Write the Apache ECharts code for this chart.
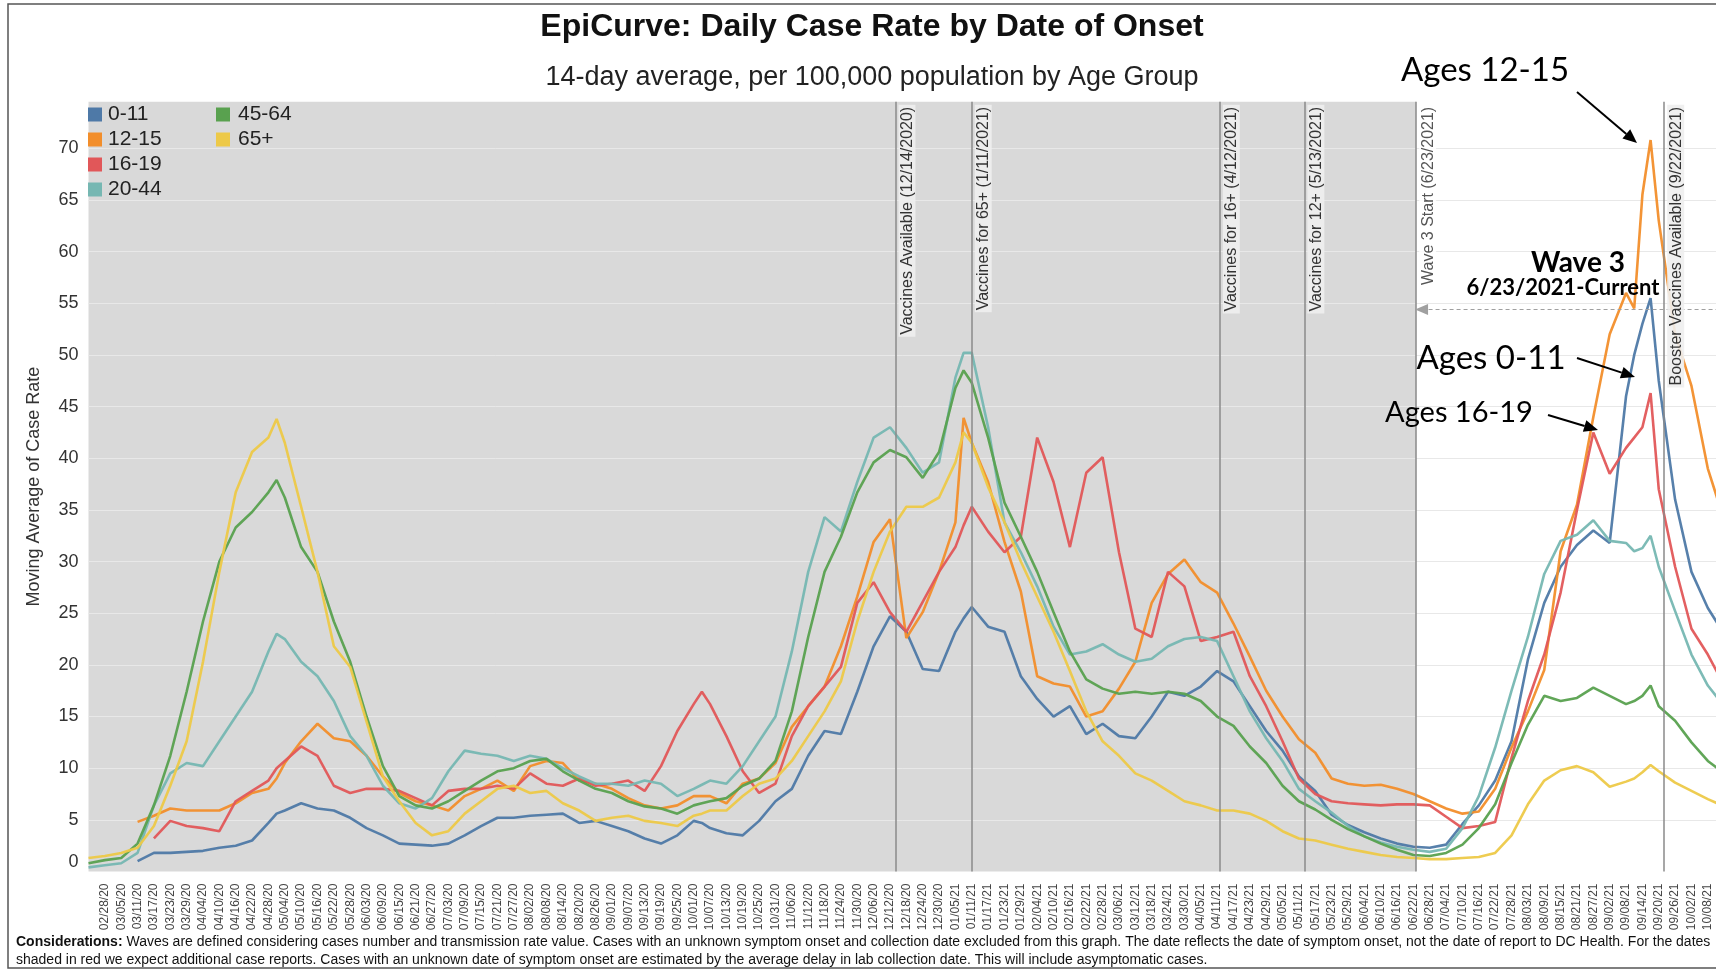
<!DOCTYPE html>
<html>
<head>
<meta charset="utf-8">
<title>EpiCurve: Daily Case Rate by Date of Onset</title>
<script src="https://cdn.jsdelivr.net/npm/echarts@6/dist/echarts.min.js"></script>
<style>
  html, body { margin: 0; padding: 0; background: #fff; overflow: hidden; }
  #main { width: 1716px; height: 971px; }
</style>
</head>
<body>
<div id="main"></div>
<script>
// days counted from 02/28/2020 (first tick label)
var days = [-6, 0, 6, 12, 18, 24, 30, 36, 42, 48, 54, 60, 63, 66, 72, 78, 84, 90, 96, 102,
  108, 114, 120, 126, 132, 138, 144, 150, 156, 162, 168, 174, 180, 186, 192, 198, 204, 210, 216, 219,
  222, 228, 234, 240, 246, 252, 258, 264, 270, 276, 282, 288, 294, 300, 306, 312, 315, 318, 324, 330,
  336, 342, 348, 354, 360, 366, 372, 378, 384, 390, 396, 402, 408, 414, 420, 426, 432, 438, 444, 450,
  456, 462, 468, 474, 480, 486, 492, 498, 504, 510, 516, 522, 528, 534, 540, 546, 552, 558, 561, 564,
  567, 570, 576, 582, 588, 594];

var ages0_11 = [null, null, null, 1.0, 1.8, 1.8, 1.9, 2.0, 2.3, 2.5, 3.0, 4.7, 5.6, 5.9, 6.6, 6.1, 5.9, 5.2, 4.2, 3.5,
  2.7, 2.6, 2.5, 2.7, 3.5, 4.4, 5.2, 5.2, 5.4, 5.5, 5.6, 4.7, 4.9, 4.4, 3.9, 3.2, 2.7, 3.5, 4.9, 4.7,
  4.2, 3.7, 3.5, 4.9, 6.8, 8.0, 11.2, 13.6, 13.3, 17.4, 21.8, 24.7, 23.2, 19.6, 19.4, 23.2, 24.5, 25.6, 23.7, 23.2,
  18.9, 16.7, 15.0, 16.0, 13.3, 14.3, 13.1, 12.9, 15.0, 17.4, 17.0, 17.9, 19.4, 18.4, 16.0, 13.6, 11.7, 9.2, 7.8, 5.5,
  4.5, 3.8, 3.2, 2.7, 2.4, 2.3, 2.6, 4.6, 6.4, 8.8, 12.6, 20.5, 26.0, 29.5, 31.6, 33.0, 31.8, 46.0, 50.0, 53.0,
  55.5, 47.5, 36.0, 29.0, 25.5, 23.0];

var ages12_15 = [null, null, null, 4.8, 5.4, 6.1, 5.9, 5.9, 5.9, 6.6, 7.6, 8.0, 9.0, 10.5, 12.6, 14.3, 12.9, 12.6, 11.2, 9.2,
  7.6, 6.8, 6.4, 5.9, 7.3, 8.0, 8.8, 7.8, 10.2, 10.7, 10.5, 8.8, 8.5, 8.0, 7.1, 6.4, 6.1, 6.4, 7.3, 7.3,
  7.3, 6.6, 8.5, 9.0, 10.5, 14.0, 16.0, 17.9, 21.8, 26.6, 31.9, 34.1, 22.6, 25.1, 29.0, 33.8, 43.9, 41.5, 37.7, 31.9,
  27.1, 18.9, 18.2, 17.9, 15.0, 15.5, 17.7, 20.3, 26.0, 28.8, 30.2, 28.0, 27.0, 24.0, 20.8, 17.5, 15.0, 12.8, 11.5, 9.0,
  8.5, 8.3, 8.4, 8.0, 7.5, 6.8, 6.1, 5.6, 5.8, 8.0, 12.0, 15.5, 19.5, 31.0, 35.5, 44.0, 52.0, 56.0, 54.5, 65.5,
  70.8, 63.0, 52.0, 47.0, 39.0, 34.0];

var ages16_19 = [null, null, null, null, 3.2, 4.9, 4.4, 4.2, 3.9, 6.8, 7.8, 8.8, 10.0, 10.7, 12.1, 11.2, 8.3, 7.6, 8.0, 8.0,
  7.8, 7.1, 6.4, 7.8, 8.0, 8.0, 8.3, 8.0, 9.5, 8.5, 8.3, 9.0, 8.3, 8.5, 8.8, 7.8, 10.2, 13.6, 16.2, 17.4,
  16.2, 13.1, 9.7, 7.6, 8.5, 13.1, 16.0, 17.9, 19.8, 26.0, 28.0, 25.1, 23.2, 26.1, 29.0, 31.4, 33.5, 35.3, 32.9, 30.9,
  32.4, 42.0, 37.7, 31.4, 38.6, 40.1, 30.9, 23.5, 22.7, 29.0, 27.6, 22.3, 22.7, 23.2, 18.9, 16.0, 12.6, 9.0, 7.5, 6.8,
  6.6, 6.5, 6.4, 6.5, 6.5, 6.4, 5.3, 4.2, 4.4, 4.8, 11.0, 16.5, 21.0, 27.0, 35.0, 42.5, 38.5, 41.0, 42.0, 43.0,
  46.3, 37.0, 29.5, 23.5, 21.0, 18.0];

var ages20_44 = [0.4, 0.6, 0.8, 1.8, 6.4, 9.5, 10.5, 10.2, 12.6, 15.0, 17.4, 21.3, 23.0, 22.5, 20.3, 18.9, 16.5, 13.1, 11.2, 8.3,
  6.6, 6.1, 7.1, 9.7, 11.7, 11.4, 11.2, 10.7, 11.2, 10.9, 10.0, 9.2, 8.5, 8.5, 8.3, 8.8, 8.5, 7.3, 8.0, 8.4,
  8.8, 8.5, 10.2, 12.6, 15.0, 21.3, 29.0, 34.3, 32.9, 37.7, 42.0, 43.0, 41.0, 38.6, 39.6, 47.8, 50.2, 50.2, 43.0, 33.8,
  30.9, 27.6, 23.7, 21.0, 21.3, 22.0, 21.0, 20.3, 20.6, 21.8, 22.5, 22.7, 22.3, 18.9, 15.5, 12.9, 10.7, 8.0, 6.8, 5.7,
  4.4, 3.4, 2.8, 2.4, 2.1, 1.9, 2.2, 4.2, 7.3, 12.0, 17.5, 22.7, 28.8, 32.0, 32.6, 34.0, 32.0, 31.8, 31.0, 31.3,
  32.5, 29.5, 25.2, 21.0, 18.0, 16.0];

var ages45_64 = [0.8, 1.1, 1.3, 2.7, 6.4, 11.2, 17.4, 24.2, 30.0, 33.3, 34.8, 36.7, 37.9, 36.2, 31.4, 29.0, 24.2, 20.3, 15.0, 10.2,
  7.3, 6.4, 6.1, 6.8, 7.8, 8.8, 9.7, 10.0, 10.7, 10.9, 9.7, 8.8, 8.0, 7.6, 6.8, 6.3, 6.1, 5.6, 6.4, 6.6,
  6.8, 7.1, 8.3, 9.0, 10.7, 15.5, 22.7, 29.0, 32.4, 36.7, 39.6, 40.8, 40.1, 38.1, 40.6, 46.8, 48.5, 47.3, 42.0, 35.7,
  32.4, 29.0, 25.1, 21.3, 18.6, 17.7, 17.2, 17.4, 17.2, 17.4, 17.2, 16.5, 15.0, 14.1, 12.1, 10.5, 8.3, 6.8, 6.0, 5.0,
  4.1, 3.4, 2.7, 2.1, 1.6, 1.5, 1.8, 2.6, 4.2, 6.5, 10.5, 14.2, 17.0, 16.5, 16.8, 17.8, 17.0, 16.2, 16.5, 17.0,
  18.0, 16.0, 14.6, 12.5, 10.7, 9.5];

var ages65plus = [1.3, 1.5, 1.8, 2.3, 4.4, 8.3, 12.6, 20.3, 29.0, 36.7, 40.6, 42.0, 43.8, 41.5, 35.3, 29.0, 21.8, 19.8, 14.5, 9.2,
  6.8, 4.7, 3.5, 3.9, 5.6, 6.8, 8.0, 8.3, 7.6, 7.8, 6.6, 5.9, 4.9, 5.2, 5.4, 4.9, 4.7, 4.4, 5.4, 5.6,
  5.9, 5.9, 7.3, 8.5, 9.0, 10.7, 13.1, 15.5, 18.4, 24.2, 29.0, 32.9, 35.3, 35.3, 36.2, 39.6, 42.5, 41.5, 37.2, 33.8,
  30.0, 26.6, 23.2, 19.4, 15.5, 12.6, 11.2, 9.5, 8.8, 7.8, 6.8, 6.4, 5.9, 5.9, 5.6, 4.9, 3.9, 3.2, 3.0, 2.6,
  2.2, 1.9, 1.6, 1.4, 1.3, 1.2, 1.2, 1.3, 1.4, 1.8, 3.5, 6.5, 8.8, 9.8, 10.2, 9.6, 8.2, 8.7, 9.0, 9.6,
  10.3, 9.7, 8.6, 7.8, 7.0, 6.3];

var groupNames = ['0-11', '12-15', '16-19', '20-44', '45-64', '65+'];
var groupColors = ['#4E79A7', '#F28E2B', '#E15759', '#76B7B2', '#59A14F', '#EDC948'];

// vertical event lines (days from 02/28/2020)
var eventDays = [290, 318, 409, 440, 481, 572];
var eventLabels = ['Vaccines Available (12/14/2020)', 'Vaccines for 65+ (1/11/2021)',
  'Vaccines for 16+ (4/12/2021)', 'Vaccines for 12+ (5/13/2021)',
  'Wave 3 Start (6/23/2021)', 'Booster Vaccines Available (9/22/2021)'];
var wave3Start = 481;
var wave3Level = 54.4;

var FONT = '"Liberation Sans", Arial, sans-serif';
var ANN = 'Lato, "Open Sans", sans-serif';

function dayLabel(d) {
  var dt = new Date(2020, 1, 28 + d);
  var mm = String(dt.getMonth() + 1).padStart(2, '0');
  var dd = String(dt.getDate()).padStart(2, '0');
  var yy = String(dt.getFullYear()).slice(2);
  return mm + '/' + dd + '/' + yy;
}

function pairs(vals) {
  return days.map(function (d, i) { return [d, vals[i]]; });
}

// arrow = line + filled head, in pixels
function arrow(x1, y1, x2, y2) {
  var a = Math.atan2(y2 - y1, x2 - x1), L = 14, W = 6;
  var bx = x2 - L * Math.cos(a), by = y2 - L * Math.sin(a);
  return [
    { type: 'line', z: 100, shape: { x1: x1, y1: y1, x2: bx, y2: by }, style: { stroke: '#000', lineWidth: 2 } },
    { type: 'polygon', z: 100, shape: { points: [[x2, y2], [bx + W * Math.sin(a), by - W * Math.cos(a)], [bx - W * Math.sin(a), by + W * Math.cos(a)]] }, style: { fill: '#000' } }
  ];
}

var allVals = [ages0_11, ages12_15, ages16_19, ages20_44, ages45_64, ages65plus];

var series = allVals.map(function (vals, i) {
  return {
    name: groupNames[i],
    type: 'line',
    data: pairs(vals),
    showSymbol: false,
    symbol: 'none',
    z: 2,
    lineStyle: { width: 2.6, color: groupColors[i], opacity: 0.95 },
    itemStyle: { color: groupColors[i] }
  };
});

// gray shading before wave 3 + event lines carried by first series
series[0].markArea = {
  silent: true,
  z: 0,
  itemStyle: { color: '#d9d9d9' },
  data: [[{ xAxis: -6 }, { xAxis: wave3Start }]]
};
series[0].markLine = {
  silent: true,
  symbol: ['none', 'none'],
  animation: false,
  data: eventDays.map(function (d, i) {
    return {
      xAxis: d,
      name: eventLabels[i],
      lineStyle: { color: '#8a8a8a', width: 1.5, type: 'solid' },
      label: {
        show: true,
        formatter: '{b}',
        position: 'insideEndBottom',
        distance: 3,
        fontFamily: FONT,
        fontSize: 16,
        color: i === 4 ? '#555' : '#333',
        backgroundColor: i === 4 ? 'rgba(255,255,255,0.85)' : 'rgba(238,238,238,0.9)',
        padding: [1, 2, 0, 2]
      }
    };
  }).concat([[
    { coord: [wave3Start + 2, wave3Level], symbol: 'triangle', symbolSize: [11, 13], symbolRotate: 90 },
    { coord: [591, wave3Level], symbol: 'none' }
  ]].map(function (pair) {
    pair[0].lineStyle = { color: '#a0a0a0', width: 1, type: [4, 3] };
    pair[0].itemStyle = { color: '#999' };
    pair[0].label = { show: false };
    return pair;
  }))
};

var chart = echarts.init(document.getElementById('main'));

var graphics = [
  { type: 'rect', z: 0, shape: { x: 8, y: 4, width: 1800, height: 964 }, style: { fill: null, stroke: '#555', lineWidth: 1.5 } },
  { type: 'text', z: 100, x: 872, y: 27, style: { text: 'EpiCurve: Daily Case Rate by Date of Onset', font: 'bold 32px ' + FONT, fill: '#111', align: 'center', verticalAlign: 'middle' } },
  { type: 'text', z: 100, x: 872, y: 78, style: { text: '14-day average, per 100,000 population by Age Group', font: '27px ' + FONT, fill: '#222', align: 'center', verticalAlign: 'middle' } },
  { type: 'text', z: 100, x: 1485, y: 70, style: { text: 'Ages 12-15', font: '33px ' + ANN, fill: '#000', align: 'center', verticalAlign: 'middle' } },
  { type: 'text', z: 100, x: 1578, y: 263, style: { text: 'Wave 3', font: 'bold 28px ' + ANN, fill: '#000', align: 'center', verticalAlign: 'middle' } },
  { type: 'text', z: 100, x: 1563, y: 288, style: { text: '6/23/2021-Current', font: 'bold 22px ' + ANN, fill: '#000', align: 'center', verticalAlign: 'middle' } },
  { type: 'text', z: 100, x: 1491, y: 358, style: { text: 'Ages 0-11', font: '33px ' + ANN, fill: '#000', align: 'center', verticalAlign: 'middle' } },
  { type: 'text', z: 100, x: 1459, y: 413, style: { text: 'Ages 16-19', font: '29px ' + ANN, fill: '#000', align: 'center', verticalAlign: 'middle' } },
  { type: 'text', z: 100, left: 16, top: 933, style: {
      text: '{b|Considerations:} Waves are defined considering cases number and transmission rate value. Cases with an unknown symptom onset and collection date excluded from this graph. The date reflects the date of symptom onset, not the date of report to DC Health. For the dates\nshaded in red we expect additional case reports. Cases with an unknown date of symptom onset are estimated by the average delay in lab collection date. This will include asymptomatic cases.',
      font: '14px ' + FONT, fill: '#111', lineHeight: 18,
      rich: { b: { fontWeight: 'bold', fontSize: 14, fontFamily: FONT, fill: '#111', lineHeight: 18 } }
  } }
].concat(arrow(1577, 92, 1637, 143), arrow(1577, 358, 1635, 377), arrow(1548, 415, 1598, 430));

chart.setOption({
  animation: false,
  backgroundColor: '#fff',
  grid: { left: 88.5, right: 0, top: 101.8, bottom: 99.5, outerBoundsMode: 'none' },
  legend: [
    {
      data: groupNames.slice(0, 4), orient: 'vertical', left: 88, top: 104, padding: 0,
      itemWidth: 14, itemHeight: 14, itemGap: 4, icon: 'rect',
      textStyle: { fontFamily: FONT, fontSize: 21, color: '#222', padding: [0, 0, 0, 1] }
    },
    {
      data: groupNames.slice(4), orient: 'vertical', left: 216, top: 104, padding: 0,
      itemWidth: 14, itemHeight: 14, itemGap: 4, icon: 'rect',
      textStyle: { fontFamily: FONT, fontSize: 21, color: '#222', padding: [0, 0, 0, 3] }
    }
  ],
  xAxis: {
    type: 'value', min: -6, max: 591, interval: 6,
    axisLine: { show: false }, axisTick: { show: false }, splitLine: { show: false },
    axisLabel: {
      rotate: 90, margin: 12, fontFamily: FONT, fontSize: 12, color: '#444',
      showMinLabel: false, showMaxLabel: false,
      formatter: function (v) { return v >= 0 && v % 6 === 0 ? dayLabel(v) : ''; }
    }
  },
  yAxis: {
    type: 'value', min: 0, max: 74.5, interval: 5, z: 1.5,
    name: 'Moving Average of Case Rate', nameLocation: 'middle', nameGap: 45,
    nameTextStyle: { fontFamily: FONT, fontSize: 18, color: '#333' },
    axisLine: { show: false }, axisTick: { show: false },
    splitLine: { show: true, showMinLine: false, showMaxLine: false, lineStyle: { color: '#e8e8e8', width: 1 } },
    axisLabel: {
      margin: 10, fontFamily: FONT, fontSize: 18, color: '#333',
      formatter: function (v) {
        if (v === 0) return '{z|0}';
        return v % 5 === 0 ? String(v) : '';
      },
      rich: { z: { fontFamily: FONT, fontSize: 18, color: '#333', padding: [0, 0, 18, 0] } }
    }
  },
  series: series,
  graphic: graphics
});
</script>
</body>
</html>
